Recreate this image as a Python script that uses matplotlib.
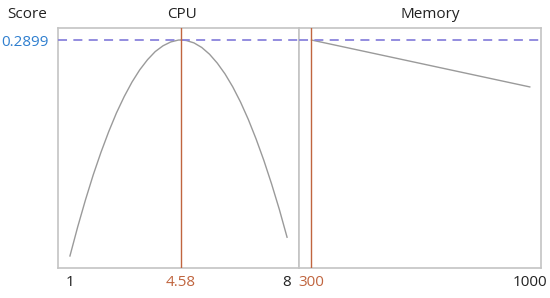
import matplotlib
matplotlib.use("Agg")
import matplotlib.pyplot as plt

# Data
cpu_x = [1.0, 1.25, 1.5, 1.75, 2.0, 2.25, 2.5, 2.75, 3.0, 3.25, 3.5, 3.75, 4.0,
         4.25, 4.5, 4.58, 4.75, 5.0, 5.25, 5.5, 5.75, 6.0, 6.25, 6.5, 6.75,
         7.0, 7.25, 7.5, 7.75, 8.0]
cpu_score = [0.2001, 0.2122, 0.2234, 0.2338, 0.2432, 0.2518, 0.2596, 0.2664,
             0.2724, 0.2775, 0.2817, 0.2851, 0.2875, 0.2891, 0.2899, 0.2899,
             0.2897, 0.2887, 0.2868, 0.2840, 0.2803, 0.2758, 0.2704, 0.2641,
             0.2569, 0.2488, 0.2399, 0.2301, 0.2195, 0.2079]
mem_x = [300, 1000]
mem_score = [0.2899, 0.2704]
best_score = 0.2899
best_cpu = 4.58
best_mem = 300
cpu_ticks = [1, 4.58, 8]
cpu_ticklabels = ["1", "4.58", "8"]
mem_ticks = [300, 1000]
mem_ticklabels = ["300", "1000"]

plt.rcParams['font.family'] = ['Open Sans', 'DejaVu Sans']

W, H = 550, 298
fig = plt.figure(figsize=(W / 100, H / 100), dpi=100)

def fx(px):
    return px / W

def fy(py):
    return 1 - py / H

top, bottom = 28, 268
ax1 = fig.add_axes([fx(58), fy(bottom), fx(299 - 58), (bottom - top) / H])
ax2 = fig.add_axes([fx(299), fy(bottom), fx(541 - 299), (bottom - top) / H])

frame_col = "#c4c4c4"
curve_col = "#9a9a9a"
sel_col = "#c0653f"
dash_col = "#8a84dc"
text_col = "#222222"
blue_col = "#2f7fcf"
fs = 11

ylim = (0.1951, 0.2949)

ax1.plot(cpu_x, cpu_score, color=curve_col, lw=1)
ax2.plot(mem_x, mem_score, color=curve_col, lw=1)

for ax in (ax1, ax2):
    ax.set_ylim(*ylim)
    ax.axhline(best_score, color=dash_col, lw=1.3, ls=(0, (5, 3.5)), zorder=3)
    for s in ax.spines.values():
        s.set_color(frame_col)
        s.set_linewidth(1.2)
    ax.tick_params(length=0, labelsize=fs, colors=text_col, pad=5)
    ax.set_yticks([])

ax1.axvline(best_cpu, color=sel_col, lw=1, zorder=4)
ax2.axvline(best_mem, color=sel_col, lw=1, zorder=4)

ax1.set_xlim(0.615, 8.385)
ax2.set_xlim(260, 1036)

ax1.set_xticks(cpu_ticks)
ax1.set_xticklabels(cpu_ticklabels)
ax1.get_xticklabels()[1].set_color(sel_col)
ax2.set_xticks(mem_ticks)
ax2.set_xticklabels(mem_ticklabels)
ax2.get_xticklabels()[0].set_color(sel_col)

ax1.set_yticks([best_score])
ax1.set_yticklabels(["0.2899"])
ax1.tick_params(axis='y', colors=blue_col, labelsize=fs, pad=7)

fig.text(fx(27), fy(15), "Score", ha="center", va="center", fontsize=fs, color=text_col)
fig.text(fx(182), fy(15), "CPU", ha="center", va="center", fontsize=fs, color=text_col)
fig.text(fx(430), fy(15), "Memory", ha="center", va="center", fontsize=fs, color=text_col)

fig.savefig("out.png", dpi=100)
